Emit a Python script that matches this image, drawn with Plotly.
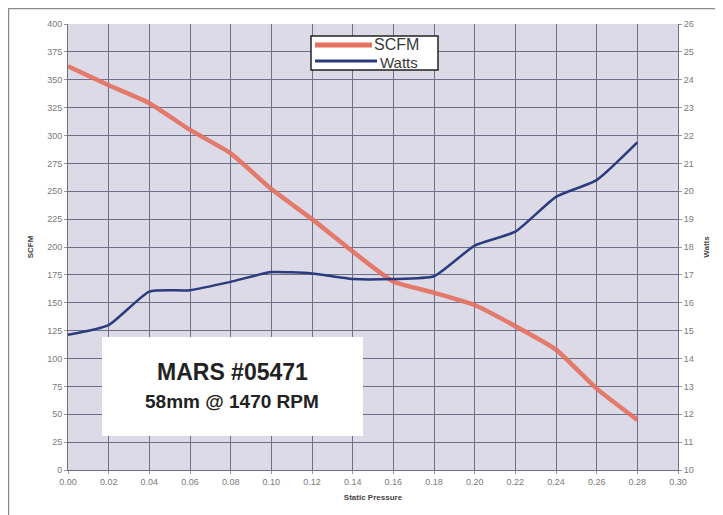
import plotly.graph_objects as go

pressure = [0.00, 0.02, 0.04, 0.06, 0.08, 0.10, 0.12, 0.14, 0.16, 0.18, 0.20, 0.22, 0.24, 0.26, 0.28]
scfm = [362, 345, 329, 305, 284, 252, 225, 196, 169, 159, 148, 129, 108, 73, 45]
watts = [14.85, 15.2, 16.4, 16.45, 16.75, 17.1, 17.05, 16.85, 16.85, 16.95, 18.05, 18.55, 19.8, 20.4, 21.75]

x_ticks = [round(0.02 * i, 2) for i in range(16)]
scfm_ticks = list(range(0, 401, 25))
watts_ticks = list(range(10, 27))

SCFM_COLOR = "#e5705f"
WATTS_COLOR = "#2c3a7e"

# plot area in page pixels: x 68..678, y 24..470
def px(x):
    return (x - 68) / 610

def py(y):
    return (470 - y) / 446

fig = go.Figure()
fig.add_trace(go.Scatter(x=pressure, y=scfm, name="SCFM", mode="lines",
                         line=dict(color=SCFM_COLOR, width=4.5, shape="spline", smoothing=0.5),
                         opacity=0.9))
fig.add_trace(go.Scatter(x=pressure, y=watts, name="Watts", mode="lines", yaxis="y2",
                         line=dict(color=WATTS_COLOR, width=2.5, shape="spline", smoothing=0.5)))

tickfont = dict(family="Arial, Liberation Sans", size=9, color="#7a7a7a")
titlefont = dict(family="Arial, Liberation Sans", size=8, color="#444")
gridc = "#6e6e86"

fig.update_layout(
    width=715, height=507,
    margin=dict(l=60, r=45, t=16, b=45),
    paper_bgcolor="white",
    plot_bgcolor="#dcdae7",
    showlegend=False,
    xaxis=dict(range=[0, 0.30], tickvals=x_ticks, tickformat=".2f",
               showgrid=True, gridcolor=gridc, gridwidth=1, zeroline=False,
               showline=True, linecolor=gridc, ticks="outside", ticklen=3, tickcolor="#999",
               tickfont=tickfont,
               title=dict(text="<b>Static Pressure</b>", font=titlefont, standoff=8)),
    yaxis=dict(range=[0, 400], tickvals=scfm_ticks, showgrid=True, gridcolor=gridc, gridwidth=1,
               zeroline=False, showline=True, linecolor=gridc, ticks="outside", ticklen=3, tickcolor="#999",
               tickfont=tickfont,
               title=dict(text="<b>SCFM</b>", font=titlefont, standoff=12)),
    yaxis2=dict(range=[10, 26], tickvals=watts_ticks, overlaying="y", side="right",
                showgrid=False, zeroline=False, showline=True, linecolor=gridc,
                ticks="outside", ticklen=3, tickcolor="#999", tickfont=tickfont,
                title=dict(text="<b>Watts</b>", font=titlefont, standoff=10)),
    shapes=[
        # outer frame lines (top and left)
        dict(type="line", xref="paper", yref="paper", x0=px(8), x1=px(723), y0=py(8.5), y1=py(8.5),
             line=dict(color="#8a8a8a", width=1.5), layer="above"),
        dict(type="line", xref="paper", yref="paper", x0=px(8.5), x1=px(8.5), y0=py(8), y1=py(515),
             line=dict(color="#8a8a8a", width=1.5), layer="above"),
        # info box
        dict(type="rect", xref="paper", yref="paper",
             x0=px(102), x1=px(363), y0=py(436), y1=py(337),
             fillcolor="white", line=dict(width=0), layer="above"),
        # legend box
        dict(type="rect", xref="paper", yref="paper",
             x0=px(311), x1=px(438), y0=py(70), y1=py(36),
             fillcolor="white", line=dict(color="#222", width=1.5), layer="above"),
        dict(type="line", xref="paper", yref="paper",
             x0=px(315), x1=px(372), y0=py(45), y1=py(45),
             line=dict(color=SCFM_COLOR, width=5), layer="above"),
        dict(type="line", xref="paper", yref="paper",
             x0=px(315), x1=px(377), y0=py(61), y1=py(61),
             line=dict(color=WATTS_COLOR, width=3), layer="above"),
    ],
    annotations=[
        dict(xref="paper", yref="paper", x=px(232), y=py(372), xanchor="center", yanchor="middle",
             text="<b>MARS #05471</b>", showarrow=False,
             font=dict(family="Arial, Liberation Sans", size=23, color="#222")),
        dict(xref="paper", yref="paper", x=px(232), y=py(401), xanchor="center", yanchor="middle",
             text="<b>58mm @ 1470 RPM</b>", showarrow=False,
             font=dict(family="Arial, Liberation Sans", size=19, color="#222")),
        dict(xref="paper", yref="paper", x=px(373), y=py(44), xanchor="left", yanchor="middle",
             text="SCFM", showarrow=False, borderpad=0,
             font=dict(family="Arial, Liberation Sans", size=16, color="#3a3a3a")),
        dict(xref="paper", yref="paper", x=px(379), y=py(62), xanchor="left", yanchor="middle",
             text="Watts", showarrow=False, borderpad=0,
             font=dict(family="Arial, Liberation Sans", size=15, color="#3a3a3a")),
    ],
)

fig.write_html("out.html")
